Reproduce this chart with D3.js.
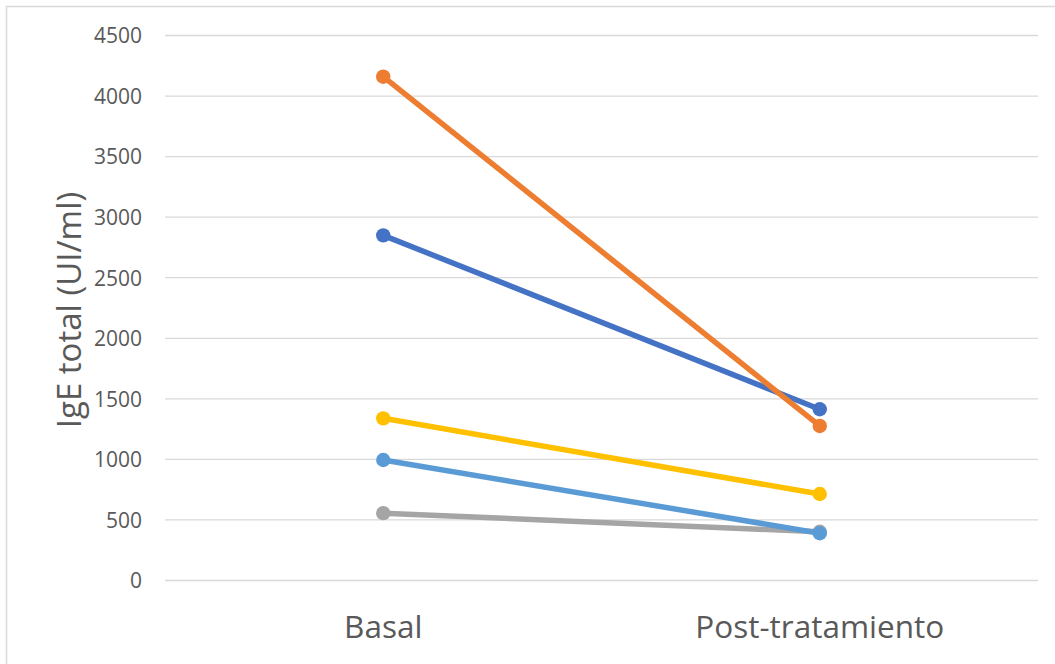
<!DOCTYPE html>
<html>
<head>
<meta charset="utf-8">
<script src="https://cdn.jsdelivr.net/npm/d3@7"></script>
<style>
html,body{margin:0;padding:0;background:#fff;}
svg{display:block;}
</style>
</head>
<body>
<svg id="chart" width="1055" height="664"></svg>
<script>
const categories = ["Basal", "Post-tratamiento"];
const seriesNames = ["Paciente 1", "Paciente 2", "Paciente 3", "Paciente 4", "Paciente 5"];
const seriesColors = ["#4472C4", "#ED7D31", "#A5A5A5", "#FFC000", "#5B9BD5"];
const serie1 = [2850, 1414];
const serie2 = [4160, 1276];
const serie3 = [556, 402];
const serie4 = [1339, 714];
const serie5 = [995, 390];
const yTicks = [0, 500, 1000, 1500, 2000, 2500, 3000, 3500, 4000, 4500];
const yTitle = "IgE total (UI/ml)";

(function () {
const allSeries = [serie1, serie2, serie3, serie4, serie5];
const svg = d3.select("#chart");
const font = "'Open Sans', 'Liberation Sans', sans-serif";

// outer chart border
svg.append("rect").attr("x", 6.5).attr("y", 6.5).attr("width", 1060).attr("height", 670)
  .attr("fill", "#fff").attr("stroke", "#d9d9d9").attr("stroke-width", 1.5);

const pLeft = 165, pRight = 1038, pTop = 35.5, pBottom = 580.5;
const x = d3.scaleBand().domain(categories).range([pLeft, pRight]);
const y = d3.scaleLinear().domain([0, 4500]).range([pBottom, pTop]);

// gridlines
svg.append("g").selectAll("line").data(yTicks).join("line")
  .attr("x1", pLeft).attr("x2", pRight)
  .attr("y1", d => y(d)).attr("y2", d => y(d))
  .attr("stroke", "#d9d9d9").attr("stroke-width", 1.3);

// y axis tick labels
const yAxis = d3.axisLeft(y).tickValues(yTicks).tickFormat(d3.format("d")).tickSize(0).tickPadding(0);
const gy = svg.append("g").attr("transform", `translate(${pLeft - 23},0)`).call(yAxis);
gy.select(".domain").remove();
gy.selectAll("text").attr("font-family", font).attr("font-size", 21).attr("fill", "#595959")
  .attr("dy", "0.35em");

// x axis labels
const xAxis = d3.axisBottom(x).tickSize(0).tickPadding(0);
const gx = svg.append("g").attr("transform", `translate(0,638)`).call(xAxis);
gx.select(".domain").remove();
gx.selectAll("text").attr("font-family", font).attr("font-size", 31.5).attr("fill", "#595959")
  .attr("y", 0).attr("dy", 0);

// y title
svg.append("text").attr("transform", `translate(81,${(pTop + pBottom) / 2 + 2}) rotate(-90)`)
  .attr("text-anchor", "middle")
  .attr("font-family", font).attr("font-size", 33).attr("fill", "#595959").text(yTitle);

// lines
const line = d3.line().x((d, i) => x(categories[i]) + x.bandwidth() / 2).y(d => y(d));
allSeries.forEach((s, k) => {
  const g = svg.append("g").attr("class", "series").attr("data-name", seriesNames[k]);
  g.append("path").attr("d", line(s)).attr("fill", "none")
    .attr("stroke", seriesColors[k]).attr("stroke-width", 5.5).attr("stroke-linecap", "round");
  g.selectAll("circle").data(s).join("circle")
    .attr("cx", (d, i) => x(categories[i]) + x.bandwidth() / 2)
    .attr("cy", d => y(d)).attr("r", 7.2).attr("fill", seriesColors[k]);
});
})();
</script>
</body>
</html>
